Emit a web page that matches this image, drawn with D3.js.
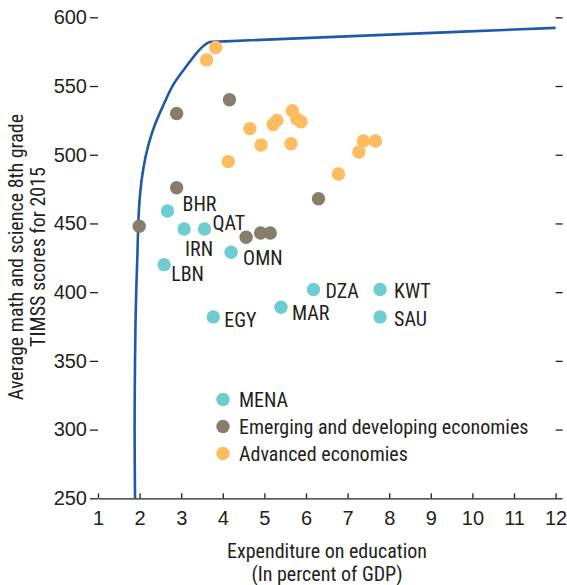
<!DOCTYPE html>
<html><head><meta charset="utf-8">
<script src="https://cdn.jsdelivr.net/npm/d3@7"></script>
<style>
html,body{margin:0;padding:0;background:#fff;}
svg text{font-family:"Liberation Sans Narrow","Arial Narrow","Roboto Condensed",sans-serif;font-stretch:condensed;fill:#231f20;}
</style></head>
<body>
<svg id="chart" width="567" height="585"></svg>
<script>
// ---- data ----
const menaLabels = ["BHR","IRN","QAT","OMN","LBN","DZA","KWT","MAR","EGY","SAU"];
const menaX = [2.67,3.07,3.56,4.20,2.59,6.18,7.78,5.40,3.77,7.78];
const menaY = [459,446,446,429,420,402,402,389,382,382];

const emergingX = [1.99,2.89,4.16,2.89,4.56,4.91,5.14,6.30];
const emergingY = [448,530,540,476,440,443,443,468];

const advancedX = [3.83,3.61,4.65,4.13,4.92,5.21,5.30,5.67,5.78,5.88,5.64,6.78,7.27,7.38,7.67];
const advancedY = [578,569,519,495,507,522,525,532,526,524,508,486,502,510,510];

const frontierX = [1.89,1.88,1.89,1.91,1.95,1.97,2.01,2.09,2.21,2.37,2.57,2.81,3.09,3.37,3.57,3.69,4.05,8.0,12.0];
const frontierY = [250,300,350,390,430,451,471,490,507,522,536,551,563,574,580,582,582.5,587.4,592.3];

const xTicks = [1,2,3,4,5,6,7,8,9,10,11,12];
const yTicks = [250,300,350,400,450,500,550,600];

const seriesNames = ["MENA","Emerging and developing economies","Advanced economies"];
const seriesColors = ["#6ecdd0","#867d6b","#fdbc5f"];

// label offsets (layout, px)
const labelOffset = {
  BHR:[15,-7], IRN:[1,20], QAT:[8,-6], OMN:[12,6], LBN:[7,9],
  DZA:[12,2], KWT:[14,2], MAR:[11,6], EGY:[11,3], SAU:[14,2]
};

// ---- chart ----
const svg = d3.select("#chart");
const x = d3.scaleLinear().domain([1,12]).range([98,555.6]);
const y = d3.scaleLinear().domain([250,600]).range([498.3,17.3]);
const axisColor = "#231f20";
const fs = 20;

// left axis
const gL = svg.append("g").attr("transform",`translate(${x(1)},0)`)
  .call(d3.axisLeft(y).tickValues(yTicks).tickSize(8).tickPadding(3));
gL.select(".domain").remove();
// right ticks
const gR = svg.append("g").attr("transform",`translate(${x(12)},0)`)
  .call(d3.axisRight(y).tickValues(yTicks).tickSize(7).tickFormat(""));
gR.select(".domain").remove();
// bottom axis
const gB = svg.append("g").attr("transform",`translate(0,${y(250)})`)
  .call(d3.axisBottom(x).tickValues(xTicks).tickSizeInner(-5).tickSizeOuter(0).tickPadding(13));

[gL,gR,gB].forEach(g=>{
  g.selectAll("line").attr("stroke",axisColor).attr("stroke-width",1.3);
  g.selectAll("path").attr("stroke",axisColor).attr("stroke-width",1.3);
  g.selectAll("text").attr("font-size",fs).attr("fill",axisColor)
    .style("font-family",'"Liberation Sans Narrow","Arial Narrow",sans-serif');
});

// frontier
const frontier = frontierX.map((v,i)=>[v,frontierY[i]]);
svg.append("path")
  .datum(frontier)
  .attr("fill","none").attr("stroke","#1e5aa8").attr("stroke-width",2.6)
  .attr("stroke-linejoin","round")
  .attr("d",d3.line().x(d=>x(d[0])).y(d=>y(d[1])).curve(d3.curveCatmullRom.alpha(0.5)));

const r = 6.7;
function drawSeries(xs,ys,color){
  svg.append("g").selectAll("circle").data(xs.map((v,i)=>[v,ys[i]])).join("circle")
    .attr("cx",d=>x(d[0])).attr("cy",d=>y(d[1])).attr("r",r).attr("fill",color);
}
drawSeries(emergingX,emergingY,seriesColors[1]);
drawSeries(advancedX,advancedY,seriesColors[2]);
drawSeries(menaX,menaY,seriesColors[0]);

// MENA labels
svg.append("g").selectAll("text").data(menaLabels).join("text")
  .attr("x",(d,i)=>x(menaX[i])+labelOffset[d][0])
  .attr("y",(d,i)=>y(menaY[i])+labelOffset[d][1])
  .attr("dy","0.35em").attr("font-size",fs).text(d=>d);

// legend
const lg = svg.append("g");
seriesNames.forEach((n,i)=>{
  const yy = 399.5 + i*27;
  lg.append("circle").attr("cx",223).attr("cy",yy).attr("r",r).attr("fill",seriesColors[i]);
  lg.append("text").attr("x",239).attr("y",yy).attr("dy","0.35em").attr("font-size",fs).text(n);
});

// axis titles
svg.append("text").attr("x",327).attr("y",558).attr("text-anchor","middle").attr("font-size",fs).text("Expenditure on education");
svg.append("text").attr("x",327).attr("y",581).attr("text-anchor","middle").attr("font-size",fs).text("(In percent of GDP)");
const yt = svg.append("g").attr("transform","translate(0,257) rotate(-90)");
yt.append("text").attr("x",0).attr("y",23).attr("text-anchor","middle").attr("font-size",fs).text("Average math and science 8th grade");
yt.append("text").attr("x",0).attr("y",45).attr("text-anchor","middle").attr("font-size",fs).text("TIMSS scores for 2015");
</script>
</body></html>
